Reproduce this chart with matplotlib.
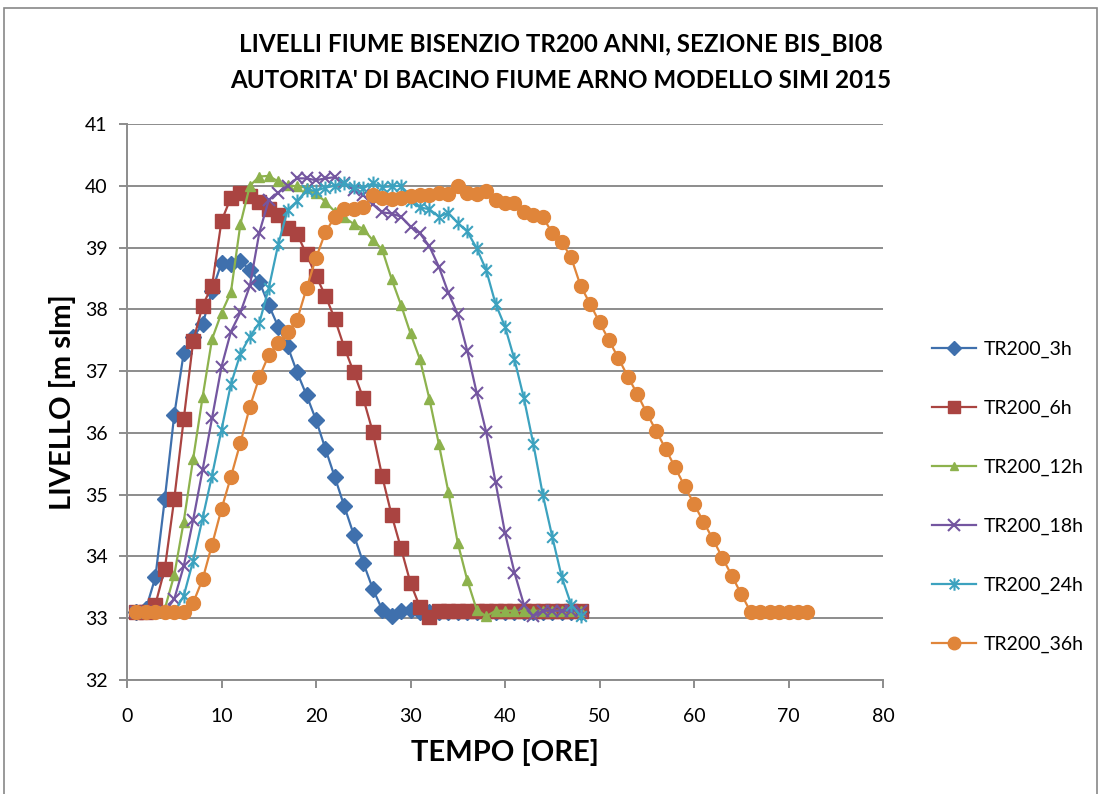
import numpy as np
import matplotlib.pyplot as plt
from matplotlib.patches import Rectangle
from matplotlib.path import Path

plt.rcParams['font.family'] = ['Lato', 'DejaVu Sans']

# Ore (time steps)
ore_48 = np.arange(1, 49)
ore_72 = np.arange(1, 73)

# Livelli [m slm] per ogni durata di pioggia
tr200_3h = [33.10, 33.15, 33.66, 34.93, 36.29, 37.29, 37.55, 37.76, 38.30, 38.75,
            38.73, 38.78, 38.64, 38.45, 38.07, 37.72, 37.40, 36.98, 36.61, 36.21,
            35.74, 35.28, 34.81, 34.35, 33.90, 33.48, 33.14, 33.03, 33.12, 33.13,
            33.10, 33.10, 33.10, 33.10, 33.10, 33.10, 33.10, 33.10, 33.10, 33.10,
            33.10, 33.10, 33.10, 33.10, 33.10, 33.10, 33.10, 33.10]
tr200_6h = [33.10, 33.10, 33.22, 33.80, 34.93, 36.22, 37.48, 38.06, 38.38, 39.43,
            39.81, 39.88, 39.84, 39.73, 39.62, 39.52, 39.31, 39.22, 38.89, 38.54,
            38.22, 37.84, 37.38, 36.98, 36.56, 36.02, 35.30, 34.67, 34.13, 33.57,
            33.18, 33.02, 33.11, 33.11, 33.11, 33.11, 33.11, 33.11, 33.11, 33.11,
            33.11, 33.11, 33.11, 33.11, 33.11, 33.11, 33.11, 33.11]
tr200_12h = [33.10, 33.10, 33.10, 33.15, 33.70, 34.56, 35.58, 36.58, 37.52, 37.94,
             38.28, 39.38, 40.00, 40.15, 40.16, 40.07, 40.01, 39.99, 39.97, 39.88,
             39.74, 39.58, 39.49, 39.38, 39.30, 39.12, 38.97, 38.49, 38.07, 37.61,
             37.19, 36.55, 35.82, 35.05, 34.22, 33.62, 33.14, 33.03, 33.12, 33.12,
             33.12, 33.12, 33.12, 33.12, 33.12, 33.12, 33.12, 33.12]
tr200_18h = [33.10, 33.10, 33.10, 33.10, 33.31, 33.84, 34.59, 35.40, 36.24, 37.07,
             37.64, 37.95, 38.38, 39.24, 39.77, 39.89, 40.00, 40.12, 40.12, 40.09,
             40.12, 40.14, 40.04, 39.93, 39.85, 39.70, 39.57, 39.55, 39.50, 39.34,
             39.23, 39.02, 38.69, 38.27, 37.92, 37.33, 36.65, 36.02, 35.20, 34.38,
             33.74, 33.22, 33.03, 33.12, 33.12, 33.12, 33.12, 33.12]
tr200_24h = [33.10, 33.10, 33.10, 33.10, 33.10, 33.36, 33.93, 34.62, 35.31, 36.05,
             36.79, 37.28, 37.56, 37.78, 38.34, 39.05, 39.61, 39.75, 39.93, 39.92,
             39.97, 40.00, 40.04, 39.98, 39.96, 40.04, 39.98, 39.99, 40.00, 39.75,
             39.65, 39.62, 39.50, 39.56, 39.40, 39.26, 38.99, 38.64, 38.09, 37.72,
             37.19, 36.56, 35.82, 35.00, 34.32, 33.67, 33.22, 33.04]
tr200_36h = [33.10, 33.10, 33.10, 33.10, 33.10, 33.10, 33.25, 33.63, 34.19, 34.77,
             35.29, 35.84, 36.42, 36.90, 37.26, 37.46, 37.63, 37.83, 38.34, 38.83,
             39.25, 39.50, 39.62, 39.62, 39.65, 39.85, 39.80, 39.79, 39.80, 39.83,
             39.85, 39.85, 39.88, 39.86, 40.00, 39.88, 39.87, 39.92, 39.77, 39.72,
             39.72, 39.57, 39.53, 39.49, 39.24, 39.09, 38.84, 38.38, 38.09, 37.79,
             37.50, 37.21, 36.91, 36.63, 36.32, 36.03, 35.74, 35.44, 35.14, 34.85,
             34.56, 34.28, 33.98, 33.69, 33.39, 33.10, 33.10, 33.10, 33.10, 33.10,
             33.10, 33.10]

# Excel-like star marker: an x plus a vertical bar
star = Path([(-1, -1), (1, 1), (-1, 1), (1, -1), (0, -1.3), (0, 1.3)],
            [Path.MOVETO, Path.LINETO, Path.MOVETO, Path.LINETO, Path.MOVETO, Path.LINETO])

fig = plt.figure(figsize=(11.04, 7.94), dpi=100)
fig.patches.append(Rectangle((4 / 1104, -0.01), 1093 / 1104, 1 - 8 / 794 + 0.01,
                             transform=fig.transFigure, fill=False,
                             edgecolor='#888888', linewidth=1.2))
ax = fig.add_axes([127 / 1104, 1 - 680 / 794, 756 / 1104, 556 / 794])

series = [
    ('TR200_3h', ore_48, tr200_3h, '#3F70AD', 'D', 8, 1.0),
    ('TR200_6h', ore_48, tr200_6h, '#AA4441', 's', 10, 1.0),
    ('TR200_12h', ore_48, tr200_12h, '#8DB24D', '^', 7, 1.0),
    ('TR200_18h', ore_48, tr200_18h, '#7456A0', 'x', 9, 1.5),
    ('TR200_24h', ore_48, tr200_24h, '#3CA2BF', star, 10, 1.5),
    ('TR200_36h', ore_72, tr200_36h, '#E0853A', 'o', 10, 1.0),
]
for name, t, v, c, m, ms, mew in series:
    ax.plot(t, v, color=c, linewidth=1.6, marker=m, markersize=ms,
            markerfacecolor=c, markeredgecolor=c, markeredgewidth=mew, label=name)

ax.set_xlim(0, 80)
ax.set_ylim(32, 41)
ax.set_xticks(np.arange(0, 81, 10))
ax.set_yticks(np.arange(32, 42, 1))
ax.yaxis.grid(True, color='#8c8c8c', linewidth=1.4)
ax.set_axisbelow(True)
for s in ['top', 'right']:
    ax.spines[s].set_visible(False)
for s in ['left', 'bottom']:
    ax.spines[s].set_color('#8c8c8c')
    ax.spines[s].set_linewidth(1.4)
ax.tick_params(axis='both', direction='out', length=6, width=1.4, color='#8c8c8c',
               labelsize=14, pad=8)
ax.tick_params(axis='x', pad=14)

ax.set_xlabel('TEMPO [ORE]', fontsize=21, fontweight='bold', labelpad=10)
ax.set_ylabel('LIVELLO [m slm]', fontsize=21, fontweight='bold', labelpad=6)

fig.text(561 / 1104, 1 - 45 / 794, "LIVELLI FIUME BISENZIO TR200 ANNI, SEZIONE BIS_BI08",
         ha='center', va='center', fontsize=17.4, fontweight='bold')
fig.text(561 / 1104, 1 - 80 / 794, "AUTORITA' DI BACINO FIUME ARNO MODELLO SIMI 2015",
         ha='center', va='center', fontsize=17.4, fontweight='bold')

ax.legend(loc='center left', bbox_to_anchor=(914 / 1104, 1 - 497 / 794),
          bbox_transform=fig.transFigure, frameon=False, fontsize=14,
          labelspacing=2.15, handlelength=2.3, handletextpad=0.4, markerscale=0.9)

fig.savefig('out.png', dpi=100)
